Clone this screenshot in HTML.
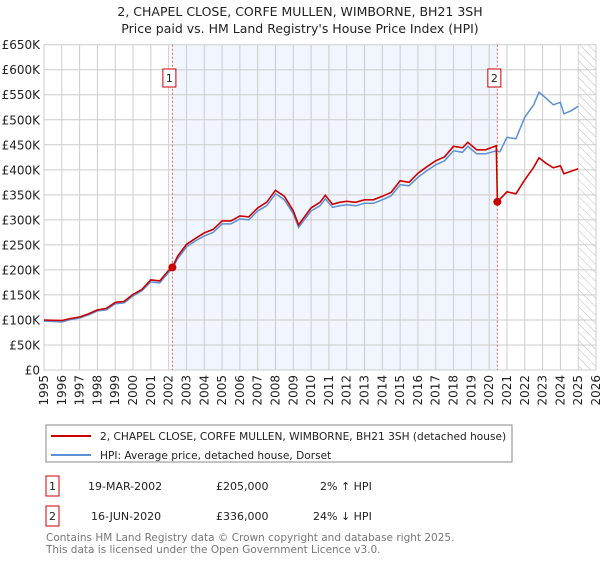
<!DOCTYPE html>
<html><head><meta charset="utf-8"><style>
body{margin:0;background:#fff;font-family:"DejaVu Sans","Liberation Sans",sans-serif;}
svg text{font-family:"DejaVu Sans","Liberation Sans",sans-serif;}
</style></head><body>
<svg id="c" width="600" height="560" viewBox="0 0 600 560" xmlns="http://www.w3.org/2000/svg">
<defs><pattern id="hatch" width="6" height="6" patternUnits="userSpaceOnUse" patternTransform="rotate(-45)"><line x1="0" y1="0" x2="0" y2="6" stroke="#bbb" stroke-width="1"/></pattern></defs>
<text x="300" y="16" text-anchor="middle" font-size="12.5" fill="#222">2, CHAPEL CLOSE, CORFE MULLEN, WIMBORNE, BH21 3SH</text>
<text x="300" y="33" text-anchor="middle" font-size="12.5" fill="#222">Price paid vs. HM Land Registry's House Price Index (HPI)</text>
<g id="plot"></g>
<rect x="46" y="425" width="466" height="37" fill="#fff" stroke="#888"/>
<line x1="51" y1="436" x2="91" y2="436" stroke="#cc0000" stroke-width="2"/>
<text x="100" y="440" font-size="10.6" fill="#222">2, CHAPEL CLOSE, CORFE MULLEN, WIMBORNE, BH21 3SH (detached house)</text>
<line x1="51" y1="455" x2="91" y2="455" stroke="#5b8fd6" stroke-width="2"/>
<text x="100" y="459" font-size="10.6" fill="#222">HPI: Average price, detached house, Dorset</text>
<g>
<rect x="46" y="476" width="13" height="20" fill="#fff" stroke="#cc0000"/>
<text x="52.5" y="490" text-anchor="middle" font-size="11" fill="#222">1</text>
<text x="88" y="490" font-size="11" fill="#222">19-MAR-2002</text>
<text x="216" y="490" font-size="11" fill="#222">£205,000</text>
<text x="320" y="490" font-size="11" fill="#222">2% ↑ HPI</text></g>
<g>
<rect x="46" y="506" width="13" height="20" fill="#fff" stroke="#cc0000"/>
<text x="52.5" y="520" text-anchor="middle" font-size="11" fill="#222">2</text>
<text x="91" y="520" font-size="11" fill="#222">16-JUN-2020</text>
<text x="216" y="520" font-size="11" fill="#222">£336,000</text>
<text x="313" y="520" font-size="11" fill="#222">24% ↓ HPI</text></g>
<text x="46" y="541" font-size="10.5" fill="#777">Contains HM Land Registry data © Crown copyright and database right 2025.</text>
<text x="46" y="553" font-size="10.5" fill="#777">This data is licensed under the Open Government Licence v3.0.</text>
</svg>
<script>
const hpiYears=[1995,1996,1996.5,1997,1997.5,1998,1998.5,1999,1999.5,2000,2000.5,2001,2001.5,2002,2002.2,2002.5,2003,2003.5,2004,2004.5,2005,2005.5,2006,2006.5,2007,2007.5,2008,2008.5,2009,2009.3,2010,2010.5,2010.8,2011.2,2011.6,2012,2012.5,2013,2013.5,2014,2014.5,2015,2015.5,2016,2016.5,2017,2017.5,2018,2018.5,2018.8,2019.3,2019.8,2020.4,2020.6,2021,2021.5,2022,2022.5,2022.8,2023.2,2023.6,2024,2024.2,2024.6,2025];
const hpiValues=[98,96,101,104,110,118,120,132,134,148,158,176,174,195,202,222,246,258,268,275,292,292,302,300,318,328,352,340,312,285,318,328,342,325,328,330,328,333,333,340,348,370,368,385,398,410,418,438,435,447,432,432,438,436,465,462,505,530,555,543,530,535,512,518,527];
const redYears=[1995,1996,1996.5,1997,1997.5,1998,1998.5,1999,1999.5,2000,2000.5,2001,2001.5,2002,2002.21,2002.5,2003,2003.5,2004,2004.5,2005,2005.5,2006,2006.5,2007,2007.5,2008,2008.5,2009,2009.3,2010,2010.5,2010.8,2011.2,2011.6,2012,2012.5,2013,2013.5,2014,2014.5,2015,2015.5,2016,2016.5,2017,2017.5,2018,2018.5,2018.8,2019.3,2019.8,2020.4,2020.46,2021,2021.5,2022,2022.5,2022.8,2023.2,2023.6,2024,2024.2,2024.6,2025];
const redValues=[100,99,103,106,112,120,123,135,137,151,161,180,178,199,205,227,251,263,274,281,298,298,308,306,324,335,359,347,318,290,324,335,349,331,335,337,335,340,340,347,355,378,375,393,406,418,426,447,444,455,440,440,448,336,356,352,380,405,424,413,404,408,392,397,402];
const saleYears=[2002.21,2020.46];
const saleValues=[205,336];
const yTicks=[0,50,100,150,200,250,300,350,400,450,500,550,600,650];
const xTicks=[1995,1996,1997,1998,1999,2000,2001,2002,2003,2004,2005,2006,2007,2008,2009,2010,2011,2012,2013,2014,2015,2016,2017,2018,2019,2020,2021,2022,2023,2024,2025,2026];
const X0=44,X1=596,Y0=370,Y1=44.7;
const xs=y=>X0+(y-1995)/(2026-1995)*(X1-X0);
const ys=v=>Y0-v/650*(Y0-Y1);
const NS="http://www.w3.org/2000/svg";
const g=document.getElementById('plot');
function mk(t,a){const e=document.createElementNS(NS,t);for(const k in a)e.setAttribute(k,a[k]);g.appendChild(e);return e;}
let e;
e=mk('rect',{x:X0,y:Y1,width:X1-X0,height:Y0-Y1,fill:'#fff'});


e=mk('rect',{x:xs(saleYears[0]),y:Y1,width:xs(saleYears[1])-xs(saleYears[0]),height:Y0-Y1,fill:'#eef3fc',opacity:0.8});


e=mk('rect',{x:xs(2025),y:Y1,width:X1-xs(2025),height:Y0-Y1,fill:'url(#hatch)'});


yTicks.forEach(v=>{
 e=mk('line',{x1:X0,x2:X1,y1:ys(v),y2:ys(v),stroke:'#ccc','stroke-width':1});
 
 
 e=mk('text',{x:X0-4,y:ys(v)+4.5,'text-anchor':'end','font-size':12,fill:'#222'});
 e.textContent=v===0?'£0':'£'+v+'K';
 
 
});
xTicks.forEach(y=>{
 e=mk('line',{x1:xs(y),x2:xs(y),y1:Y1,y2:Y0,stroke:'#ccc','stroke-width':1});
 
 
 e=mk('text',{x:0,y:0,'text-anchor':'end','font-size':12,fill:'#222',transform:`translate(${xs(y)+4},${Y0+5}) rotate(-90)`});
 e.textContent=y;
 
 
});
saleYears.forEach((y,i)=>{
 e=mk('line',{x1:xs(y),x2:xs(y),y1:Y1,y2:Y0,stroke:'#e06060','stroke-width':1,'stroke-dasharray':'2,2'});
 
 
});
const path=(xa,va)=>xa.map((y,i)=>(i?'L':'M')+xs(y).toFixed(1)+','+ys(va[i]).toFixed(1)).join('');
e=mk('path',{d:path(hpiYears,hpiValues),fill:'none',stroke:'#5b8fd6','stroke-width':1.5});


e=mk('path',{d:path(redYears,redValues),fill:'none',stroke:'#cc0000','stroke-width':1.6});


saleYears.forEach((y,i)=>{
 e=mk('circle',{cx:xs(y),cy:ys(saleValues[i]),r:4,fill:'#cc0000'});
 
 
 const bx=xs(y)-3;
 e=mk('rect',{x:bx-6.5,y:69,width:13,height:18,fill:'#fff',stroke:'#cc0000'});
 
 
 e=mk('text',{x:bx,y:82,'text-anchor':'middle','font-size':11,fill:'#222'});
 e.textContent=String(i+1);
 
 
});
</script>
</body></html>
